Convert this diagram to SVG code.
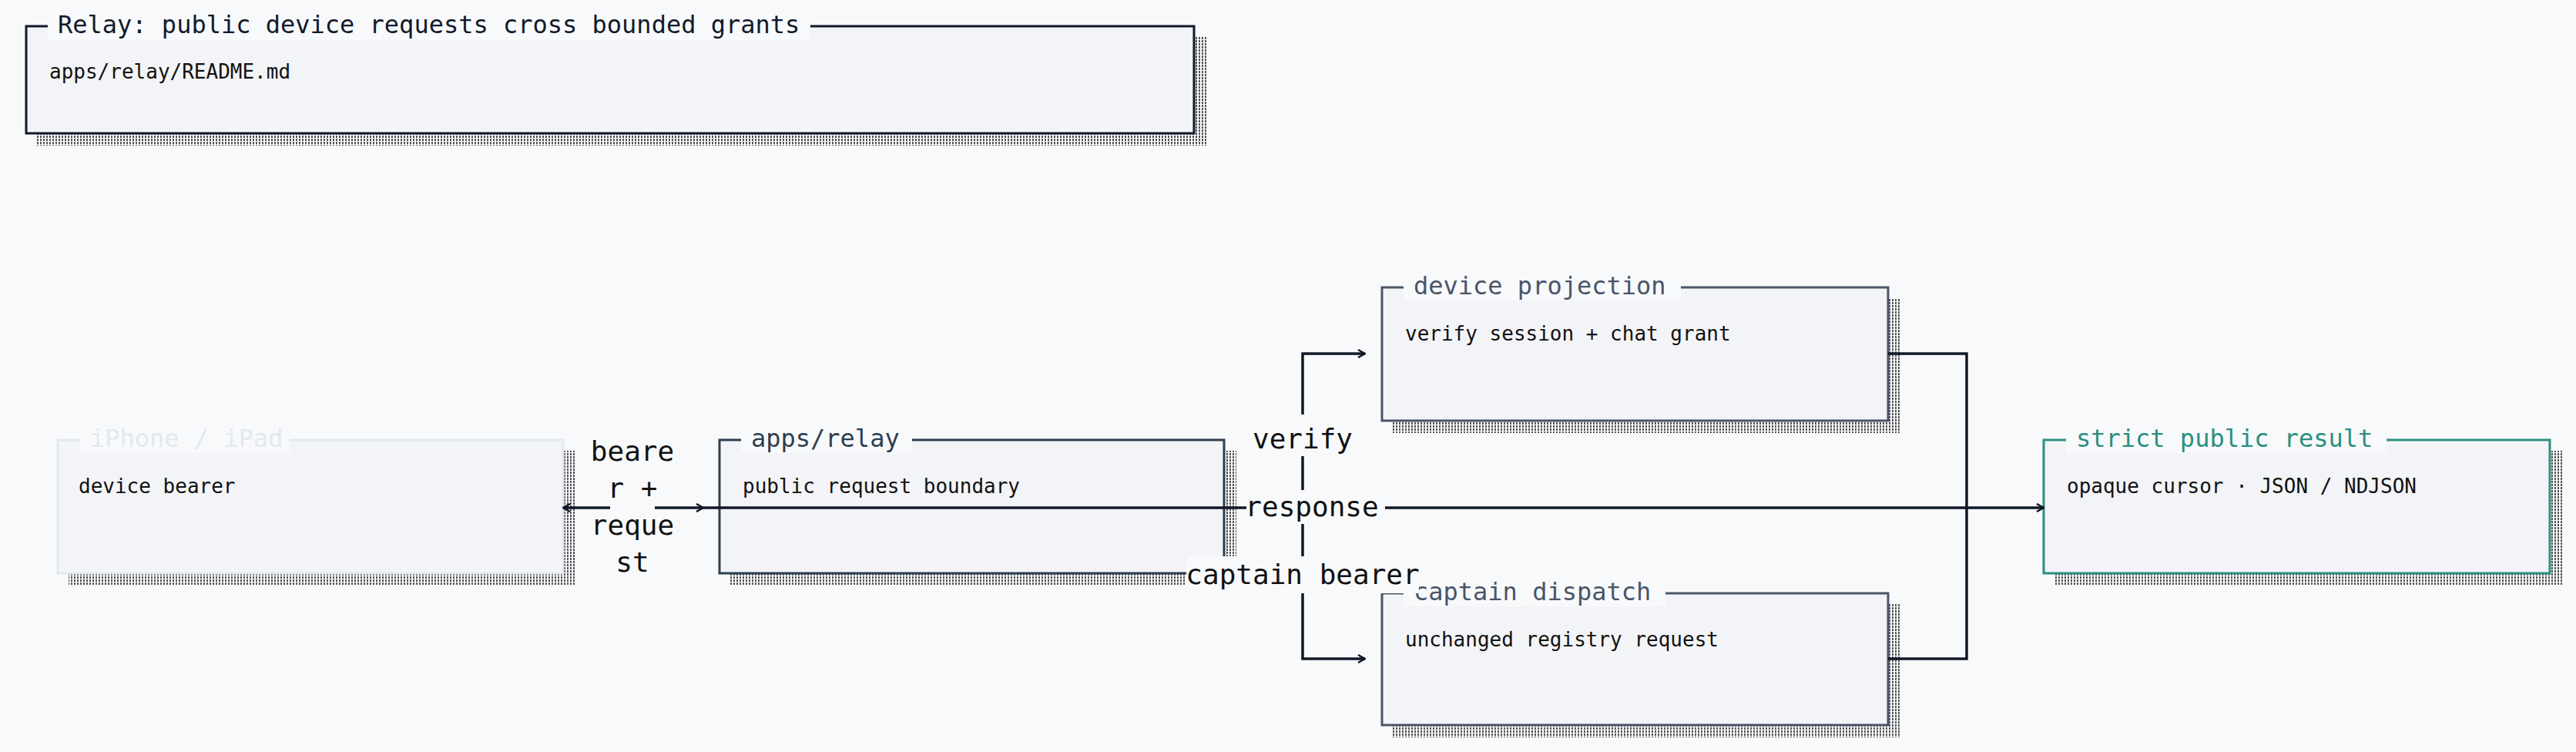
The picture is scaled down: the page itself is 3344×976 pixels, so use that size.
<svg xmlns="http://www.w3.org/2000/svg" width="3344" height="976" viewBox="0 0 3344 976">
<defs>
<pattern id="dots" width="4" height="4" patternUnits="userSpaceOnUse"><rect width="4" height="4" fill="#f8f9fb"/><rect width="2" height="3" fill="#555"/></pattern>
<marker id="arr" viewBox="0 0 12 12" refX="11" refY="6" markerWidth="12" markerHeight="12" markerUnits="userSpaceOnUse" orient="auto-start-reverse"><path d="M2 1 L11 6 L2 11" fill="none" stroke="#111827" stroke-width="2.5"/></marker>
</defs>
<style>
.mono{font-family:"DejaVu Sans Mono","Liberation Mono",monospace}
.t{font-size:32px}
.b{font-size:26px;fill:#111}
.e{font-size:36px;fill:#111;text-anchor:middle}
.box{fill:#f3f4f7;stroke-width:3}
.sh{fill:url(#dots)}
.lbg{fill:#f8f9fb}
.c{fill:none;stroke:#111827;stroke-width:3.5}
</style>
<rect width="3344" height="976" fill="#f8f9fb"/>
<g id="title">
<rect class="sh" x="48" y="48" width="1518" height="141"/>
<rect class="box" x="34" y="34" width="1516" height="139" stroke="#111a2b" stroke-width="4"/>
<rect class="lbg" x="62" y="12" width="990" height="40"/>
<text class="mono t" x="75" y="43" fill="#111a2b">Relay: public device requests cross bounded grants</text>
<text class="mono b" x="64" y="102">apps/relay/README.md</text>
</g>
<g id="iphone">
<rect class="sh" x="89" y="585" width="658" height="175"/>
<rect class="box" x="75" y="571" width="656" height="173" fill="#f5f7fa" stroke="#e2e8f0"/>
<rect class="lbg" x="104" y="548" width="272" height="40"/>
<text class="mono t" x="117" y="580" fill="#e2e8f0">iPhone / iPad</text>
<text class="mono b" x="102" y="640">device bearer</text>
</g>
<g id="relay">
<rect class="sh" x="948" y="585" width="657" height="175"/>
<rect class="box" x="934" y="571" width="655" height="173" stroke="#2d3f4f"/>
<rect class="lbg" x="962" y="548" width="222" height="40"/>
<text class="mono t" x="975" y="580" fill="#2d3f4f">apps/relay</text>
<text class="mono b" x="964" y="640">public request boundary</text>
</g>
<g id="projection">
<rect class="sh" x="1808" y="387" width="659" height="175"/>
<rect class="box" x="1794" y="373" width="657" height="173" stroke="#4a5568"/>
<rect class="lbg" x="1822" y="350" width="360" height="40"/>
<text class="mono t" x="1835" y="382" fill="#4a5568">device projection</text>
<text class="mono b" x="1824" y="442">verify session + chat grant</text>
</g>
<g id="captain">
<rect class="sh" x="1808" y="784" width="659" height="173"/>
<rect class="box" x="1794" y="770" width="657" height="171" stroke="#4a5568"/>
<rect class="lbg" x="1822" y="747" width="340" height="40"/>
<text class="mono t" x="1835" y="779" fill="#4a5568">captain dispatch</text>
<text class="mono b" x="1824" y="839">unchanged registry request</text>
</g>
<g id="result">
<rect class="sh" x="2667" y="585" width="659" height="175"/>
<rect class="box" x="2653" y="571" width="657" height="173" fill="#f1f5f7" stroke="#2a9080"/>
<rect class="lbg" x="2682" y="548" width="416" height="40"/>
<text class="mono t" x="2695" y="580" fill="#2a9080">strict public result</text>
<text class="mono b" x="2683" y="640">opaque cursor · JSON / NDJSON</text>
</g>
<g id="connectors">
<path class="c" d="M731 659 H913" marker-start="url(#arr)" marker-end="url(#arr)"/>
<path class="c" d="M913 659 H2653" marker-end="url(#arr)"/>
<path class="c" d="M1691 659 V459 H1772" marker-end="url(#arr)"/>
<path class="c" d="M1691 659 V855 H1772" marker-end="url(#arr)"/>
<path class="c" d="M2451 459 H2553 V855 H2451"/>
<rect class="lbg" x="792" y="560" width="58" height="190"/>
<text class="mono e" x="821" y="598">beare</text>
<text class="mono e" x="821" y="646">r +</text>
<text class="mono e" x="821" y="694">reque</text>
<text class="mono e" x="821" y="742">st</text>
<rect class="lbg" x="1626" y="538" width="130" height="54"/>
<text class="mono e" x="1691" y="582">verify</text>
<rect class="lbg" x="1618" y="636" width="180" height="44"/>
<text class="mono e" x="1703" y="670">response</text>
<rect class="lbg" x="1540" y="722" width="302" height="48"/>
<text class="mono e" x="1691" y="758">captain bearer</text>
</g>
</svg>
